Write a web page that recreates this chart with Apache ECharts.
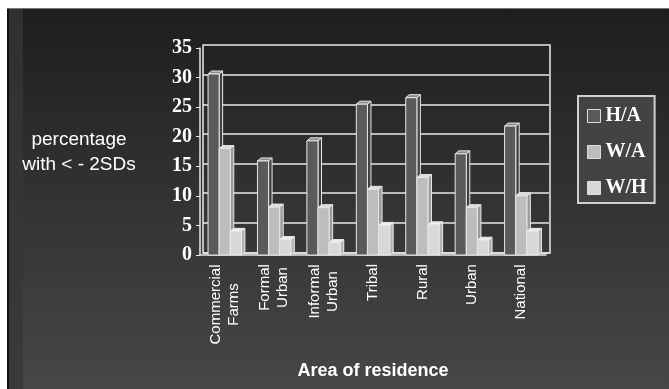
<!DOCTYPE html>
<html>
<head>
<meta charset="utf-8">
<script src="https://cdn.jsdelivr.net/npm/echarts@6/dist/echarts.min.js"></script>
<style>
html, body { margin: 0; padding: 0; background: #fff; }
#bg {
  position: absolute; left: 7px; top: 8px; width: 662px; height: 381px;
  background: linear-gradient(#1e1e1e, #474747);
  border-top: 1px solid #777;
  box-sizing: border-box;
}
#strip {
  position: absolute; left: 7px; top: 9px; width: 16px; height: 380px;
  background: linear-gradient(#303030, #3a3a3a);
  border-left: 2px solid #111;
  box-sizing: border-box;
}
#chart { position: absolute; left: 0; top: 0; width: 669px; height: 389px; }
</style>
</head>
<body>
<div id="bg"></div>
<div id="strip"></div>
<div id="chart"></div>
<script>
// 各地区分类
const categories = ['Commercial\nFarms', 'Formal\nUrban', 'Informal\nUrban', 'Tribal', 'Rural', 'Urban', 'National']
// 三个指标 (%)
const haValues = [30.6, 15.9, 19.3, 25.5, 26.6, 17.1, 21.8]
const waValues = [18.0, 8.1, 8.0, 11.1, 13.1, 8.0, 10.0]
const whValues = [4.0, 2.6, 2.1, 5.0, 5.1, 2.5, 4.0]
const seriesNames = ['H/A', 'W/A', 'W/H']
const yTicks = [0, 5, 10, 15, 20, 25, 30, 35]

const chartinit = echarts.init(document.getElementById('chart'))

// 标签多行居中
const ctx = document.createElement('canvas').getContext('2d')
ctx.font = '15px "Liberation Sans"'
const rich = {}
categories.forEach((c, i) => {
  const w = Math.max(...c.split('\n').map(s => ctx.measureText(s).width))
  rich['l' + i] = { width: Math.ceil(w) + 2, align: 'center', fontSize: 15, lineHeight: 18, color: '#fff', fontFamily: '"Liberation Sans", Arial' }
})

// 伪3D柱子
function bar3d(s, front, top, side) {
  return function (params, api) {
    const c = api.coord([api.value(0), api.value(1)])
    const base = api.coord([api.value(0), 0])
    const band = api.size([1, 0])[0]
    const w = band * 0.225
    const dx = 3.5, dy = 3
    const x0 = c[0] + (s - 1) * w - w / 2
    const x1 = x0 + w
    const yt = c[1], yb = base[1]
    const stroke = { stroke: '#e8e8e8', lineWidth: 1 }
    return {
      type: 'group',
      children: [
        { type: 'polygon', shape: { points: [[x1, yt], [x1 + dx, yt - dy], [x1 + dx, yb - dy], [x1, yb]] }, style: Object.assign({ fill: side }, stroke) },
        { type: 'polygon', shape: { points: [[x0, yt], [x0 + dx, yt - dy], [x1 + dx, yt - dy], [x1, yt]] }, style: Object.assign({ fill: top }, stroke) },
        { type: 'rect', shape: { x: x0, y: yt, width: w, height: yb - yt }, style: Object.assign({ fill: front }, stroke) }
      ]
    }
  }
}

const colors = [
  ['#5a5a5a', '#8a8a8a', '#404040'],
  ['#bdbdbd', '#dcdcdc', '#9a9a9a'],
  ['#d8d8d8', '#eeeeee', '#b4b4b4']
]
const allValues = [haValues, waValues, whValues]

const option = {
  animation: false,
  title: {
    text: 'percentage\nwith < - 2SDs',
    left: 74,
    top: 122,
    textAlign: 'center',
    textStyle: { color: '#fff', fontSize: 19, fontWeight: 'normal', lineHeight: 25, fontFamily: '"Liberation Sans", Arial' }
  },
  legend: {
    orient: 'vertical',
    left: 578,
    top: 96,
    padding: [10, 8, 5, 9],
    itemGap: 16,
    itemWidth: 13,
    itemHeight: 13,
    icon: 'rect',
    backgroundColor: '#434343',
    borderColor: '#d0d0d0',
    borderWidth: 2,
    textStyle: { color: '#fff', fontSize: 20, fontWeight: 'bold', fontFamily: '"Liberation Serif", "Times New Roman"' },
    data: seriesNames.map((n, i) => ({ name: n, itemStyle: { color: colors[i][0], borderColor: '#dddddd', borderWidth: 1 } }))
  },
  grid: [
    { left: 200, right: 123, top: 48, bottom: 134 },   // 前面
    { left: 203, right: 119, top: 45, bottom: 136.5 }  // 后墙
  ],
  xAxis: [
    {
      type: 'category',
      gridIndex: 0,
      data: categories,
      name: 'Area of residence',
      nameLocation: 'middle',
      nameGap: 107,
      nameTextStyle: { color: '#fff', fontSize: 18, fontWeight: 'bold', fontFamily: '"Liberation Sans", Arial' },
      axisLine: { lineStyle: { color: '#e8e8e8', width: 1.5 } },
      axisTick: { length: 5, lineStyle: { color: '#e8e8e8' } },
      axisLabel: {
        rotate: 90,
        margin: 8,
        interval: 0,
        formatter: (v, i) => v.split('\n').map(s => '{l' + i + '|' + s + '}').join('\n'),
        rich: rich
      },
      splitLine: { show: false }
    },
    {
      type: 'category',
      gridIndex: 1,
      data: categories,
      axisLine: { lineStyle: { color: '#e8e8e8', width: 1.5 } },
      axisTick: { show: false },
      axisLabel: { show: false }
    }
  ],
  yAxis: [
    {
      type: 'value',
      gridIndex: 0,
      min: 0, max: 35, interval: 5,
      axisLine: { show: true, lineStyle: { color: '#e8e8e8', width: 1.5 } },
      axisTick: { show: true, length: 4, lineStyle: { color: '#e8e8e8' } },
      axisLabel: {
        margin: 8,
        color: '#fff', fontSize: 20, fontWeight: 'bold', fontFamily: '"Liberation Serif", "Times New Roman"',
        formatter: v => yTicks.includes(v) ? String(v) : ''
      },
      splitLine: { show: false }
    },
    {
      type: 'value',
      gridIndex: 1,
      min: 0, max: 35, interval: 5,
      axisLine: { show: true, lineStyle: { color: '#e8e8e8', width: 1.5 } },
      axisTick: { show: false },
      axisLabel: { show: false },
      splitLine: { show: true, lineStyle: { color: '#e8e8e8', width: 1.5 } }
    },
    {
      type: 'value',
      gridIndex: 1,
      position: 'right',
      min: 0, max: 35, interval: 5,
      axisLine: { show: true, lineStyle: { color: '#bbbbbb', width: 2 } },
      axisTick: { show: false },
      axisLabel: { show: false },
      splitLine: { show: false }
    }
  ],
  series: seriesNames.map((n, s) => ({
    name: n,
    type: 'custom',
    xAxisIndex: 0,
    yAxisIndex: 0,
    itemStyle: { color: colors[s][0] },
    renderItem: bar3d(s, colors[s][0], colors[s][1], colors[s][2]),
    encode: { x: 0, y: 1 },
    data: allValues[s].map((v, i) => [i, v])
  }))
}
chartinit.setOption(option)
</script>
</body>
</html>
